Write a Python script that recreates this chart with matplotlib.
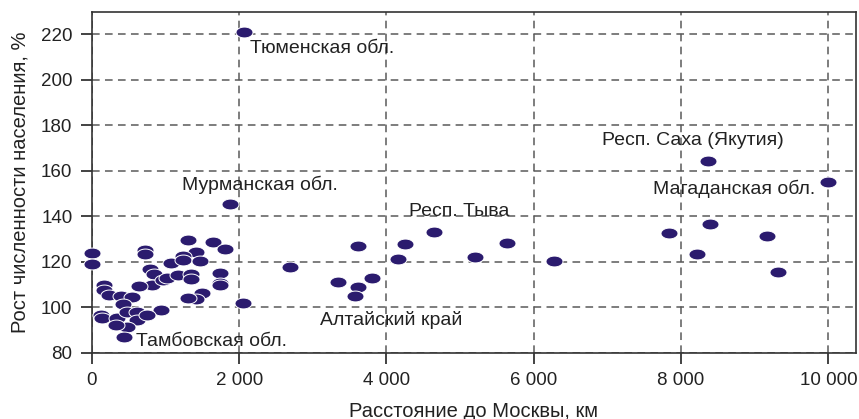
import numpy as np
import matplotlib
matplotlib.use("Agg")
import matplotlib.pyplot as plt
from matplotlib.ticker import FuncFormatter, MultipleLocator

plt.rcParams['font.family'] = ['Liberation Sans', 'DejaVu Sans']

# distance to Moscow (km) and population growth (%)
dist = [0, 0, 720, 720, 1300, 1640, 1810, 1410, 1240, 1080, 1235, 1465,
        795, 840, 815, 640, 965, 1013, 1170, 1350, 1350, 1740, 1740, 1740,
        1490, 1420, 1310, 2050, 935, 165, 165, 230, 400, 540, 420, 118,
        135, 340, 475, 610, 610, 745, 475, 434, 325,
        2070, 1870, 8370, 9990, 8400, 7840, 9170, 8220, 9320,
        4640, 4250, 3610, 4150, 5200, 5630, 6280, 2690, 3340, 3610, 3570, 3800]
growth = [124, 119, 125, 123.5, 129.5, 128.8, 125.5, 124.4, 122.5, 119.6, 121, 120.3,
          117, 114.5, 110, 109.3, 112, 113, 114, 114.7, 112.5, 115.2, 110.8, 109.8,
          106.4, 103.5, 104, 102, 99, 110, 107.7, 105.5, 105, 104.5, 101.5, 96.7,
          95.4, 95.4, 98, 98, 94.5, 96.7, 91.5, 87, 92.3,
          221, 145.5, 164.5, 155.2, 136.8, 132.8, 131.5, 123.6, 115.6,
          133.3, 128, 127, 121.3, 122.2, 128.4, 120.5, 117.8, 111.2, 109, 105, 113]

# region labels and where they sit
names = ["Тюменская обл.", "Мурманская обл.", "Респ. Саха (Якутия)",
         "Магаданская обл.", "Респ. Тыва", "Алтайский край", "Тамбовская обл."]
name_x = [2150, 1230, 6920, 7620, 4310, 3100, 600]
name_y = [214, 154, 173.3, 152, 142, 94.5, 84.8]

# ellipse marker, wider than tall
t = np.linspace(0, 2 * np.pi, 60)
ellipse = np.column_stack([np.cos(t), 0.64 * np.sin(t)])

fig = plt.figure(figsize=(8.59, 4.19), dpi=100)
ax = fig.add_axes([0.107, 0.158, 0.889, 0.814])

ax.grid(True, color='#5a5a5a', linestyle=(0, (5, 3.5)), linewidth=1.1, zorder=0)
ax.set_axisbelow(True)

ax.scatter(dist, growth, marker=ellipse, s=150, color='#2b1b6e',
           edgecolors='white', linewidths=0.7, zorder=3, clip_on=False)

for n, x, y in zip(names, name_x, name_y):
    ax.text(x, y, n, ha='left', va='center', fontsize=14, color='#222222', zorder=4)

ax.set_xlim(0, 10370)
ax.set_ylim(80, 230)
ax.xaxis.set_major_locator(MultipleLocator(2000))
ax.set_yticks(np.arange(80, 221, 20))
ax.xaxis.set_major_formatter(FuncFormatter(lambda v, p: f"{int(v):,}".replace(",", " ")))

ax.tick_params(direction='out', length=8, width=1.2, labelsize=13.5,
               colors='#222222', pad=6)
for s in ax.spines.values():
    s.set_color('#333333')
    s.set_linewidth(1.2)

ax.set_xlabel("Расстояние до Москвы, км", fontsize=14.5, color='#222222', labelpad=9)
ax.set_ylabel("Рост численности населения, %", fontsize=14.5, color='#222222', labelpad=8)

fig.savefig("out.png", dpi=100)
